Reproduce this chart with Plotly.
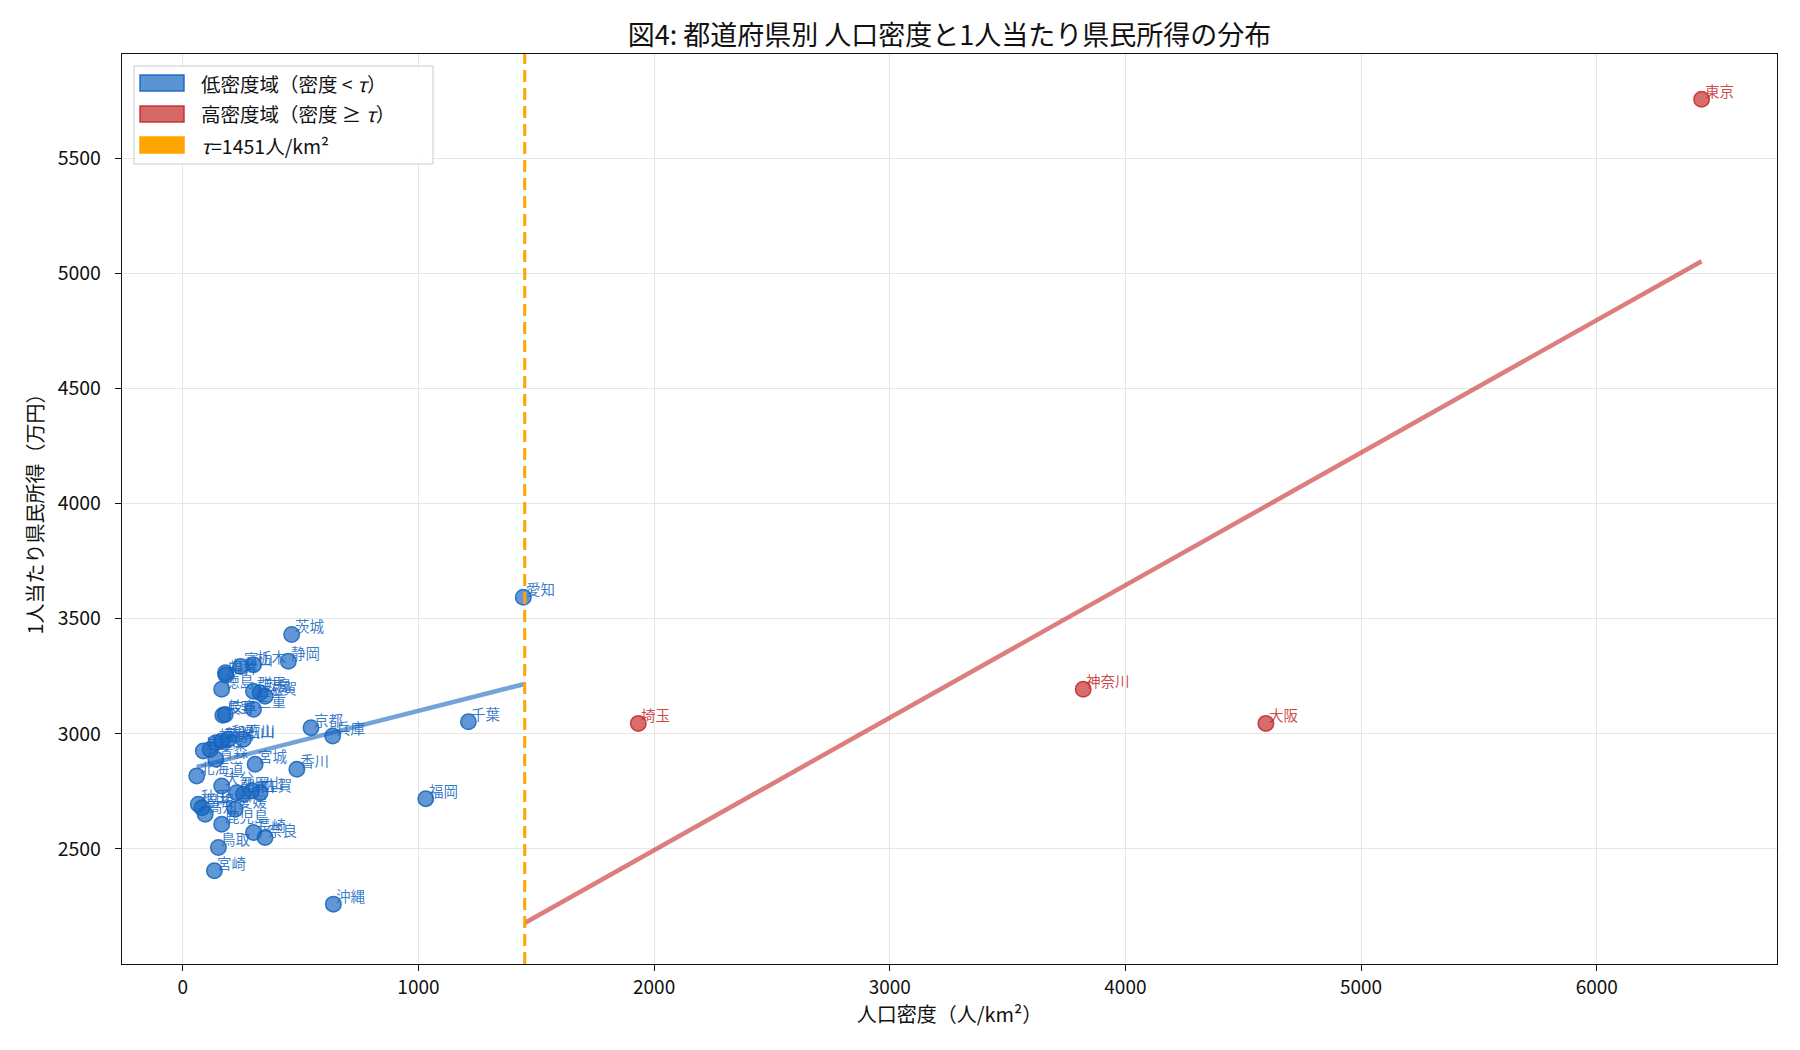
import numpy as np
import plotly.graph_objects as go

# ---- data ----
TAU = 1451

low_names = ["北海道", "青森", "岩手", "宮城", "秋田", "山形", "福島", "茨城", "栃木", "群馬",
             "千葉", "新潟", "富山", "石川", "福井", "山梨", "長野", "岐阜", "静岡", "愛知",
             "三重", "滋賀", "京都", "兵庫", "奈良", "和歌山", "鳥取", "島根", "岡山", "広島",
             "山口", "徳島", "香川", "愛媛", "高知", "福岡", "佐賀", "長崎", "熊本", "大分",
             "宮崎", "鹿児島", "沖縄"]
low_density = [59, 140, 87, 307, 66, 116, 140, 462, 300, 300,
               1212, 165, 245, 257, 183, 181, 170, 180, 448, 1445,
               300, 349, 544, 636, 349, 193, 151, 81, 293, 328,
               257, 165, 484, 222, 95, 1031, 328, 300, 229, 165,
               134, 165, 639]
low_income = [2817, 2889, 2925, 2867, 2694, 2932, 2961, 3431, 3300, 3185,
              3052, 2968, 3292, 2976, 3255, 3265, 3080, 3084, 3315, 3593,
              3106, 3163, 3026, 2990, 2549, 2976, 2506, 2679, 2752, 3178,
              2737, 3193, 2846, 2672, 2650, 2718, 2744, 2571, 2744, 2773,
              2405, 2607, 2260]

high_names = ["埼玉", "東京", "神奈川", "大阪"]
high_density = [1933, 6445, 3821, 4596]
high_income = [3045, 5755, 3193, 3045]

x_ticks = [0, 1000, 2000, 3000, 4000, 5000, 6000]
y_ticks = [2500, 3000, 3500, 4000, 4500, 5000, 5500]

title = "図4: 都道府県別 人口密度と1人当たり県民所得の分布"
x_title = "人口密度（人/km²）"
y_title = "1人当たり県民所得（万円）"
legend_labels = ["低密度域（密度 < <i>τ</i>）", "高密度域（密度 ≥ <i>τ</i>）", f"<i>τ</i>={TAU}人/km²"]

# ---- styles ----
BLUE = (21, 101, 192)
RED = (198, 40, 40)
ORANGE = "#FFA500"
FONT = "Noto Sans CJK JP"


def rgba(c, a):
    return f"rgba({c[0]},{c[1]},{c[2]},{a})"


# page has an 8px body margin; target plot area in page pixels:
OFF = 8
W, H = 1800, 1050
PL, PR, PT, PB = 122, 1777, 54, 964  # plot area edges on the page
ML, MT = PL - OFF, PT - OFF
MR = W + OFF - PR
MB = H + OFF - PB
PW, PH = PR - PL, PB - PT

fig = go.Figure()

# regression lines
ld = np.array(low_density, float)
li = np.array(low_income, float)
hd = np.array(high_density, float)
hi = np.array(high_income, float)
bl = np.polyfit(ld, li, 1)
bh = np.polyfit(hd, hi, 1)
xl = np.array([ld.min(), TAU])
xh = np.array([TAU, hd.max()])
fig.add_trace(go.Scatter(x=xl, y=np.polyval(bl, xl), mode="lines",
                         line=dict(color=rgba(BLUE, 0.6), width=4.5),
                         showlegend=False, hoverinfo="skip"))
fig.add_trace(go.Scatter(x=xh, y=np.polyval(bh, xh), mode="lines",
                         line=dict(color=rgba(RED, 0.6), width=4.5),
                         showlegend=False, hoverinfo="skip"))

# points
fig.add_trace(go.Scatter(x=low_density, y=low_income, mode="markers",
                         marker=dict(size=15.5, color=rgba(BLUE, 0.68),
                                     line=dict(color=rgba(BLUE, 0.85), width=1.5)),
                         showlegend=False, text=low_names))
fig.add_trace(go.Scatter(x=high_density, y=high_income, mode="markers",
                         marker=dict(size=15.5, color=rgba(RED, 0.68),
                                     line=dict(color=rgba(RED, 0.85), width=1.5)),
                         showlegend=False, text=high_names))

# point labels
for names, xs, ys, col in [(low_names, low_density, low_income, BLUE),
                           (high_names, high_density, high_income, RED)]:
    for n, xv, yv in zip(names, xs, ys):
        fig.add_annotation(x=xv, y=yv, text=n, showarrow=False,
                           xanchor="left", yanchor="bottom", xshift=1, yshift=-4,
                           font=dict(family=FONT, size=14.5, color=rgba(col, 0.85)))

# tau line
fig.add_shape(type="line", xref="x", yref="paper", x0=TAU, x1=TAU, y0=0, y1=1,
              line=dict(color=ORANGE, width=3, dash="12px,6px"))


# custom legend (matplotlib-like patches), positions given in page pixels
def px_x(X):
    return (X - PL) / PW


def px_y(Y):
    return (PB - Y) / PH


fig.add_shape(type="rect", xref="paper", yref="paper",
              x0=px_x(134), x1=px_x(433), y0=px_y(164), y1=px_y(66),
              line=dict(color="#cccccc", width=1), fillcolor="rgba(255,255,255,0.85)")
patch_fill = [rgba(BLUE, 0.7), rgba(RED, 0.7), ORANGE]
patch_edge = [rgba(BLUE, 0.9), rgba(RED, 0.9), ORANGE]
rows = [83, 114, 145]
for lab, f, e, yc in zip(legend_labels, patch_fill, patch_edge, rows):
    fig.add_shape(type="rect", xref="paper", yref="paper",
                  x0=px_x(140), x1=px_x(184), y0=px_y(yc + 8), y1=px_y(yc - 8),
                  line=dict(color=e, width=1.5), fillcolor=f)
    fig.add_annotation(xref="paper", yref="paper", x=px_x(199), y=px_y(yc),
                       text=lab, showarrow=False, xanchor="left", yanchor="middle",
                       font=dict(family=FONT, size=19.5, color="#111111"))

fig.update_layout(
    width=W, height=H,
    margin=dict(l=ML, r=MR, t=MT, b=MB),
    plot_bgcolor="white", paper_bgcolor="white",
    font=dict(family=FONT, size=19, color="#111111"),
    title=dict(text=title, x=(PL - OFF + PW / 2) / W, xanchor="center", y=1 - 28 / H,
               yanchor="middle", font=dict(family=FONT, size=27, color="#111111")),
    showlegend=False,
)
fig.update_xaxes(range=[-258, 6765], tickvals=x_ticks, ticktext=[str(v) for v in x_ticks],
                 showgrid=True, gridcolor="#e6e6e6", gridwidth=1, zeroline=False,
                 showline=True, linecolor="#111111", linewidth=1.3, mirror=True,
                 ticks="outside", ticklen=6, tickcolor="#111111",
                 title=dict(text=x_title, font=dict(family=FONT, size=20), standoff=8),
                 tickfont=dict(family=FONT, size=19))
fig.update_yaxes(range=[2000, 5952], tickvals=y_ticks, ticktext=[str(v) for v in y_ticks],
                 showgrid=True, gridcolor="#e6e6e6", gridwidth=1, zeroline=False,
                 showline=True, linecolor="#111111", linewidth=1.3, mirror=True,
                 ticks="outside", ticklen=6, tickcolor="#111111", ticklabelstandoff=10,
                 title=dict(text=y_title, font=dict(family=FONT, size=20), standoff=8),
                 tickfont=dict(family=FONT, size=19.5))

fig.write_html("out.html")
